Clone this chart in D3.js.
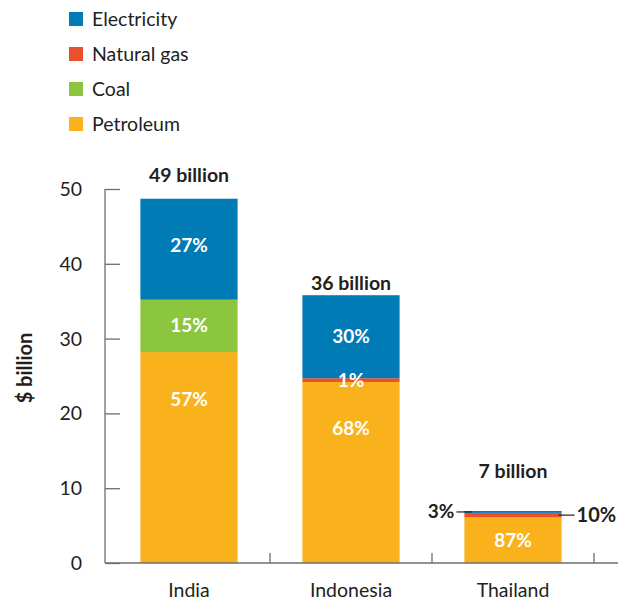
<!DOCTYPE html>
<html><head><meta charset="utf-8">
<script src="https://cdn.jsdelivr.net/npm/d3@7"></script>
<style>
body{margin:0;background:#fff;}
text{font-family:Lato,"Open Sans",sans-serif;fill:#231f20;}
</style></head>
<body><svg id="c" width="618" height="600"></svg>
<script>
const categories = ["India", "Indonesia", "Thailand"];
const seriesNames = ["Petroleum", "Coal", "Natural gas", "Electricity"];
const petroleum   = [28.2, 24.2, 6.1];
const coal        = [7.0, 0, 0];
const naturalGas  = [0, 0.5, 0.6];
const electricity = [13.5, 11.1, 0.25];
const petroleumPct   = ["57%", "68%", "87%"];
const coalPct        = ["15%", "", ""];
const naturalGasPct  = ["", "1%", "10%"];
const electricityPct = ["27%", "30%", "3%"];
const totals = ["49 billion", "36 billion", "7 billion"];
const yTicks = [0, 10, 20, 30, 40, 50];
const legendOrder = ["Electricity", "Natural gas", "Coal", "Petroleum"];

const colors = {"Electricity":"#007bb6","Natural gas":"#e9502b","Coal":"#8cc63f","Petroleum":"#f9b21b"};
const valuesByName = {"Petroleum":petroleum,"Coal":coal,"Natural gas":naturalGas,"Electricity":electricity};
const pctByName = {"Petroleum":petroleumPct,"Coal":coalPct,"Natural gas":naturalGasPct,"Electricity":electricityPct};

const rows = categories.map((c,i)=>{const r={category:c}; seriesNames.forEach(s=>r[s]=valuesByName[s][i]); return r;});
const stacked = d3.stack().keys(seriesNames)(rows);

const svg = d3.select("#c");
const x = d3.scaleBand().domain(categories).range([108, 594]).paddingInner(0.4).paddingOuter(0.2);
const y = d3.scaleLinear().domain([0, 50]).range([563, 189]);

// legend
const lg = svg.append("g");
legendOrder.forEach((name,i)=>{
  const gy = 12 + i*35;
  lg.append("rect").attr("x",69).attr("y",gy).attr("width",14).attr("height",14).attr("fill",colors[name]);
  lg.append("text").attr("x",92).attr("y",gy+13.5).attr("font-size",19.5).text(name);
});

// bars
svg.append("g").selectAll("g").data(stacked).join("g")
  .attr("fill", d=>colors[d.key])
  .selectAll("rect").data(d=>d).join("rect")
  .attr("x", d=>x(d.data.category))
  .attr("width", x.bandwidth())
  .attr("y", d=>y(d[1]))
  .attr("height", d=>Math.max(0, y(d[0])-y(d[1])));

// axes
const yAxis = svg.append("g").attr("transform","translate(105,0)")
  .call(d3.axisRight(y).tickValues(yTicks).tickSize(15).tickFormat(""));
yAxis.select(".domain").remove();
yAxis.selectAll("line").attr("stroke","#6d6e71").attr("stroke-width",1.3);
svg.append("line").attr("x1",105).attr("x2",105).attr("y1",189).attr("y2",563).attr("stroke","#6d6e71").attr("stroke-width",1.3);
svg.append("g").selectAll("text").data(yTicks).join("text")
  .attr("x",82).attr("y",d=>y(d)+7).attr("text-anchor","end").attr("font-size",19.5).text(d=>d);

svg.append("line").attr("x1",105).attr("x2",618).attr("y1",563).attr("y2",563).attr("stroke","#6d6e71").attr("stroke-width",1.3);
// separators between categories
categories.forEach((c,i)=>{
  const sx = x(c) + x.bandwidth() + x.step()*x.paddingInner()/2;
  svg.append("line").attr("x1",sx).attr("x2",sx).attr("y1",553).attr("y2",563).attr("stroke","#6d6e71").attr("stroke-width",1.3);
});
svg.append("g").selectAll("text").data(categories).join("text")
  .attr("x",d=>x(d)+x.bandwidth()/2).attr("y",597).attr("text-anchor","middle").attr("font-size",19.5).text(d=>d);

// y label
svg.append("text").attr("transform","translate(32,368) rotate(-90)").attr("text-anchor","middle")
  .attr("font-size",20).attr("font-weight","bold").text("$ billion");

// total labels
const totalGap = [17, 5, 33];
categories.forEach((c,i)=>{
  const tot = seriesNames.reduce((a,s)=>a+valuesByName[s][i],0);
  svg.append("text").attr("x",x(c)+x.bandwidth()/2).attr("y",y(tot)-totalGap[i])
    .attr("text-anchor","middle").attr("font-size",19.5).attr("font-weight","bold").text(totals[i]);
});

// segment labels inside
stacked.forEach(layer=>{
  layer.forEach((d,i)=>{
    const txt = pctByName[layer.key][i];
    if(!txt) return;
    const top = y(d[1]), bot = y(d[0]);
    const h = bot-top;
    const cx = x(d.data.category)+x.bandwidth()/2;
    if(d.data.category==="Thailand" && (layer.key==="Natural gas"||layer.key==="Electricity")){
      const mid = (top+bot)/2;
      if(layer.key==="Electricity"){
        svg.append("line").attr("x1",x(d.data.category)-8).attr("x2",x(d.data.category)+8).attr("y1",mid).attr("y2",mid).attr("stroke","#231f20").attr("stroke-width",1.2);
        svg.append("text").attr("x",x(d.data.category)-10).attr("y",mid+6).attr("text-anchor","end").attr("font-size",19).attr("font-weight","bold").text(txt);
      } else {
        const xr = x(d.data.category)+x.bandwidth();
        svg.append("line").attr("x1",xr-3).attr("x2",xr+13).attr("y1",mid).attr("y2",mid).attr("stroke","#231f20").attr("stroke-width",1.2);
        svg.append("text").attr("x",xr+15).attr("y",mid+7).attr("text-anchor","start").attr("font-size",20).attr("font-weight","bold").text(txt);
      }
      return;
    }
    let cy = h > 100 ? top + 47 : (top+bot)/2;
    if(h < 10) cy = (top+bot)/2;
    svg.append("text").attr("x",cx).attr("y",cy+6.5).attr("text-anchor","middle")
      .attr("font-size",19).attr("font-weight","bold").style("fill","#fff").text(txt);
  });
});
</script></body></html>
